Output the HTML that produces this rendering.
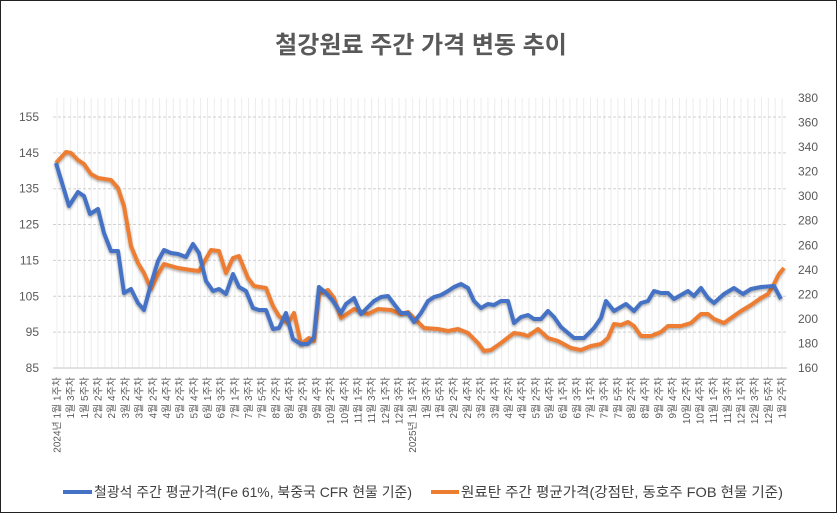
<!DOCTYPE html>
<html><head><meta charset="utf-8">
<style>
html,body{margin:0;padding:0;background:#fff;}
#c{position:relative;width:837px;height:513px;box-sizing:border-box;border:1.5px solid #222;overflow:hidden;}
svg{position:absolute;left:0;top:0;}
text{font-family:"Liberation Sans","Noto Sans CJK KR",sans-serif;}
</style></head><body>
<div id="c">
<svg id="s" width="837" height="513" viewBox="0 0 837 513" xmlns="http://www.w3.org/2000/svg">
<defs><filter id="sh" x="-5%" y="-5%" width="110%" height="120%"><feDropShadow dx="0" dy="1.5" stdDeviation="1.2" flood-color="#000" flood-opacity="0.35"/></filter></defs>
<text x="420" y="52" text-anchor="middle" font-size="24" font-weight="bold" fill="#595959">철강원료 주간 가격 변동 추이</text>
<g id="grid"></g>
<g id="ylab" font-size="12" fill="#595959"></g>
<g id="xlab" font-size="10" fill="#595959"></g>
<polyline filter="url(#sh)" fill="none" stroke="#ED7D31" stroke-width="4" stroke-linejoin="round" points="55,162 65,151 70,152 77,159 83,163 90,173 97,177 110,179 117,187 123,205 130,245 137,262 143,272 150,288 157,273 163,263 177,267 190,269 198,270 210,249 218,250 225,272 232,257 238,255 247,277 253,285 265,287 272,305 278,315 287,322 293,312 300,343 308,337 313,340 318,293 327,289 333,297 340,317 353,308 367,313 377,308 390,309 400,313 407,311 413,317 423,327 437,328 447,330 457,328 467,332 477,342 483,350 490,349 500,342 513,332 520,333 527,335 537,328 547,337 557,340 570,347 580,349 590,345 600,343 607,337 613,323 620,324 627,321 633,325 640,335 650,335 660,331 667,325 680,325 690,322 700,313 707,313 713,318 723,322 730,317 740,310 750,304 760,297 767,293 773,283 778,273 783,267"/>
<polyline filter="url(#sh)" fill="none" stroke="#4472C4" stroke-width="4" stroke-linejoin="round" points="55,162 68,205 77,191 83,195 89,213 97,208 103,232 110,250 117,250 123,292 130,288 137,302 143,309 150,283 157,260 163,249 170,252 177,253 185,256 192,243 198,252 205,280 212,290 218,288 225,293 232,273 238,286 245,290 252,307 258,309 265,309 272,328 278,327 285,312 292,338 300,343 307,343 313,336 318,286 325,292 332,300 340,312 345,303 353,297 360,313 366,307 373,300 380,296 387,295 393,303 400,312 407,312 413,321 420,312 427,300 433,296 440,294 447,290 453,286 460,283 467,287 473,300 480,307 487,303 493,304 500,300 507,300 513,322 520,316 527,314 533,318 540,318 547,310 553,316 560,326 573,337 583,337 593,327 600,317 605,300 613,310 625,303 633,310 640,302 647,300 653,290 660,292 667,292 673,298 687,290 693,295 700,287 707,297 713,302 723,293 733,287 742,293 750,288 760,286 773,285 780,298"/>
<line x1="62" y1="491" x2="91" y2="491" stroke="#4472C4" stroke-width="4"/>
<text x="93" y="496" font-size="14" fill="#404040" textLength="318" lengthAdjust="spacingAndGlyphs">철광석 주간 평균가격(Fe 61%, 북중국 CFR 현물 기준)</text>
<line x1="430" y1="491" x2="458" y2="491" stroke="#ED7D31" stroke-width="4"/>
<text x="460" y="496" font-size="14" fill="#404040" textLength="322" lengthAdjust="spacingAndGlyphs">원료탄 주간 평균가격(강점탄, 동호주 FOB 현물 기준)</text>
</svg>
</div>
<script>
var NS="http://www.w3.org/2000/svg";
function el(t,a,p,txt){var e=document.createElementNS(NS,t);for(var k in a)e.setAttribute(k,a[k]);if(txt!==undefined)e.textContent=txt;p.appendChild(e);return e;}
var g=document.getElementById('grid'),yl=document.getElementById('ylab'),xl=document.getElementById('xlab');
var x0=56,dx=6.84,n=107;
for(var i=0;i<n;i++){var x=x0+i*dx;el('line',{x1:x,y1:97,x2:x,y2:367,stroke:'#ececec','stroke-width':1},g);}
for(var v=85;v<=155;v+=10){var y=367-(v-85)*35.86/10;
 if(v>85)el('line',{x1:52,y1:y,x2:786,y2:y,stroke:'#d0d0d0','stroke-width':1,'stroke-dasharray':'3,2'},g);
 el('text',{x:38,y:y+4,'text-anchor':'end'},yl,String(v));}
el('line',{x1:52,y1:367,x2:786,y2:367,stroke:'#d9d9d9','stroke-width':1.5},g);
for(var v=160;v<=380;v+=20){var y=367-(v-160)*270/220;el('text',{x:797,y:y+4},yl,String(v));}
var L=["1월 1","1월 3","1월 5","2월 2","2월 4","3월 2","3월 4","4월 2","4월 4","5월 2","5월 4","6월 1","6월 3","7월 1","7월 3","7월 5","8월 2","8월 4","9월 2","9월 4","10월 2","10월 4","11월 1","11월 3","12월 1","12월 3"];
var L2=["1월 1","1월 3","1월 5","2월 2","2월 4","3월 2","3월 4","4월 2","4월 4","5월 2","5월 4","6월 1","6월 3","7월 1","7월 3","7월 5","8월 2","8월 4","9월 2","9월 4","10월 2","10월 4","11월 1","11월 3","12월 1","12월 3","12월 5","1월 2"];
var all=L.concat(L2);
for(var j=0;j<all.length;j++){var x=x0+j*13.68+3.5;var s=all[j]+"주차";
 if(j==0)s="2024년 "+s; if(j==26)s="2025년 "+s;
 el('text',{transform:'translate('+x+',376) rotate(-90)','text-anchor':'end'},xl,s);}
</script>
</body></html>
